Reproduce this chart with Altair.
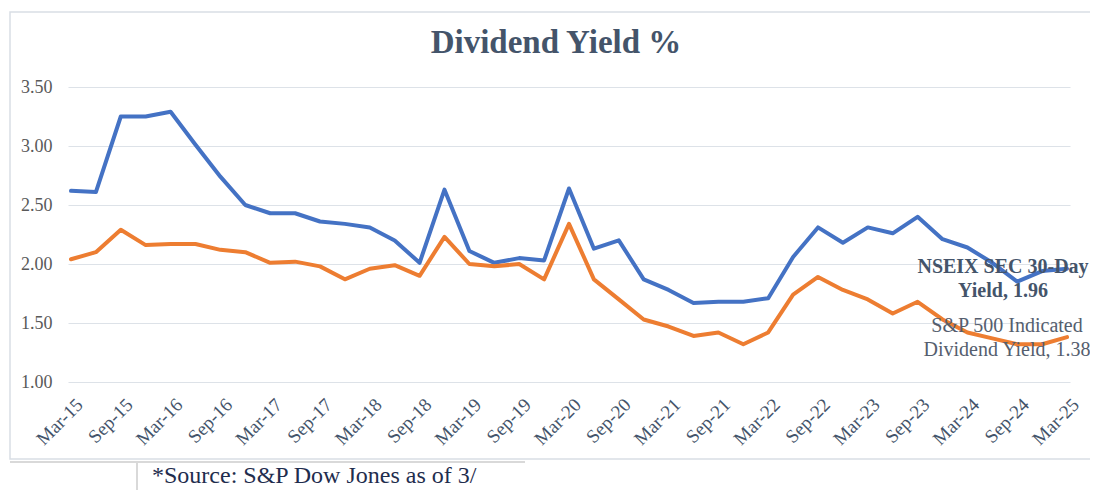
import altair as alt
import pandas as pd

quarters = [
    "Mar-15", "Jun-15", "Sep-15", "Dec-15", "Mar-16", "Jun-16", "Sep-16", "Dec-16",
    "Mar-17", "Jun-17", "Sep-17", "Dec-17", "Mar-18", "Jun-18", "Sep-18", "Dec-18",
    "Mar-19", "Jun-19", "Sep-19", "Dec-19", "Mar-20", "Jun-20", "Sep-20", "Dec-20",
    "Mar-21", "Jun-21", "Sep-21", "Dec-21", "Mar-22", "Jun-22", "Sep-22", "Dec-22",
    "Mar-23", "Jun-23", "Sep-23", "Dec-23", "Mar-24", "Jun-24", "Sep-24", "Dec-24",
    "Mar-25",
]
nseix = [2.62, 2.61, 3.25, 3.25, 3.29, 3.01, 2.74, 2.50, 2.43, 2.43, 2.36, 2.34, 2.31,
         2.20, 2.01, 2.63, 2.11, 2.01, 2.05, 2.03, 2.64, 2.13, 2.20, 1.87, 1.78, 1.67,
         1.68, 1.68, 1.71, 2.06, 2.31, 2.18, 2.31, 2.26, 2.40, 2.21, 2.14, 2.01, 1.85,
         1.94, 1.96]
sp500 = [2.04, 2.10, 2.29, 2.16, 2.17, 2.17, 2.12, 2.10, 2.01, 2.02, 1.98, 1.87, 1.96,
         1.99, 1.90, 2.23, 2.00, 1.98, 2.00, 1.87, 2.34, 1.87, 1.70, 1.53, 1.47, 1.39,
         1.42, 1.32, 1.42, 1.74, 1.89, 1.78, 1.70, 1.58, 1.68, 1.53, 1.42, 1.37, 1.32,
         1.32, 1.38]
tick_labels = ["Mar-15", "Sep-15", "Mar-16", "Sep-16", "Mar-17", "Sep-17", "Mar-18",
               "Sep-18", "Mar-19", "Sep-19", "Mar-20", "Sep-20", "Mar-21", "Sep-21",
               "Mar-22", "Sep-22", "Mar-23", "Sep-23", "Mar-24", "Sep-24", "Mar-25"]
y_ticks = [1.0, 1.5, 2.0, 2.5, 3.0, 3.5]
series_names = ["NSEIX SEC 30-Day Yield", "S&P 500 Indicated Dividend Yield"]
end_label_lines = [["NSEIX SEC 30-Day", "Yield"], ["S&P 500 Indicated", "Dividend Yield"]]
colors = ["#4472C4", "#ED7D31"]

title_text = "Dividend Yield %"
source_text = "*Source: S&P Dow Jones as of 3/"

SERIF = "Liberation Serif"

df = pd.DataFrame({
    "quarter": quarters + quarters,
    "value": nseix + sp500,
    "series": [series_names[0]] * len(quarters) + [series_names[1]] * len(quarters),
})

end_df = pd.DataFrame({
    "quarter": [quarters[-1], quarters[-1]],
    "value": [nseix[-1], sp500[-1]],
    "series": series_names,
    "label": [
        [end_label_lines[0][0], f"{end_label_lines[0][1]}, {nseix[-1]:.2f}"],
        [end_label_lines[1][0], f"{end_label_lines[1][1]}, {sp500[-1]:.2f}"],
    ],
})

x_enc = alt.X(
    "quarter:O",
    sort=quarters,
    scale=alt.Scale(type="point", domain=quarters, padding=0.12),
    axis=alt.Axis(
        values=tick_labels, labelAngle=-45, labelAlign="right", labelBaseline="top",
        labelFont=SERIF, labelFontSize=19, labelColor="#44546A",
        domain=False, ticks=False, grid=False, title=None,
        labelPadding=13, labelOffset=2, labelOverlap=False, labelBound=False,
    ),
)
y_enc = alt.Y(
    "value:Q",
    scale=alt.Scale(domain=[1.0, 3.5], nice=False, zero=False),
    axis=alt.Axis(
        values=y_ticks, format=".2f", domain=False, ticks=False, title=None,
        labelFont=SERIF, labelFontSize=18, labelColor="#595959", labelPadding=16,
        gridColor="#DDE2E8", gridWidth=1.2,
    ),
)
color_enc = alt.Color(
    "series:N", scale=alt.Scale(domain=series_names, range=colors), legend=None
)

lines = alt.Chart(df).mark_line(
    strokeWidth=4, strokeCap="round", strokeJoin="round"
).encode(x=x_enc, y=y_enc, color=color_enc)

label_nseix = alt.Chart(end_df).transform_filter(
    alt.datum.series == series_names[0]
).mark_text(
    font=SERIF, fontSize=20, fontWeight="bold", color="#44546A",
    align="center", baseline="alphabetic", dx=-64, dy=4, lineHeight=24,
).encode(x=alt.X("quarter:O", sort=quarters), y="value:Q", text="label")

label_sp = alt.Chart(end_df).transform_filter(
    alt.datum.series == series_names[1]
).mark_text(
    font=SERIF, fontSize=20, color="#555E6E",
    align="center", baseline="alphabetic", dx=-60, dy=-5, lineHeight=24,
).encode(x=alt.X("quarter:O", sort=quarters), y="value:Q", text="label")

dummy = pd.DataFrame({"t": [title_text], "s": [source_text]})

frame = alt.Chart(dummy).mark_rect(
    fill="white", fillOpacity=0, stroke="#D9DEE5", strokeWidth=1.5
).encode(x=alt.value(-58), x2=alt.value(1100), y=alt.value(-75), y2=alt.value(372))

title = alt.Chart(dummy).mark_text(
    font=SERIF, fontSize=33, fontWeight="bold", color="#44546A",
    align="center", baseline="alphabetic",
).encode(x=alt.value(488), y=alt.value(-34), text="t:N")

hline = alt.Chart(dummy).mark_rule(color="#D9D9D9", strokeWidth=2).encode(
    x=alt.value(-58), x2=alt.value(457), y=alt.value(375)
)
vline = alt.Chart(dummy).mark_rule(color="#D9D9D9", strokeWidth=2).encode(
    x=alt.value(69), y=alt.value(375), y2=alt.value(420)
)
source = alt.Chart(dummy).mark_text(
    font=SERIF, fontSize=24, color="#1F2D4E", align="left", baseline="alphabetic",
).encode(x=alt.value(84), y=alt.value(396), text="s:N")

chart = alt.layer(
    frame, hline, vline, title, source, lines, label_nseix, label_sp
).properties(
    width=1002,
    height=295,
    autosize="none",
    padding={"left": 60, "top": 79, "right": 20, "bottom": 108},
    background="white",
).configure_view(strokeWidth=0)

chart.save("out.html", embed_options={"renderer": "svg", "actions": False})
